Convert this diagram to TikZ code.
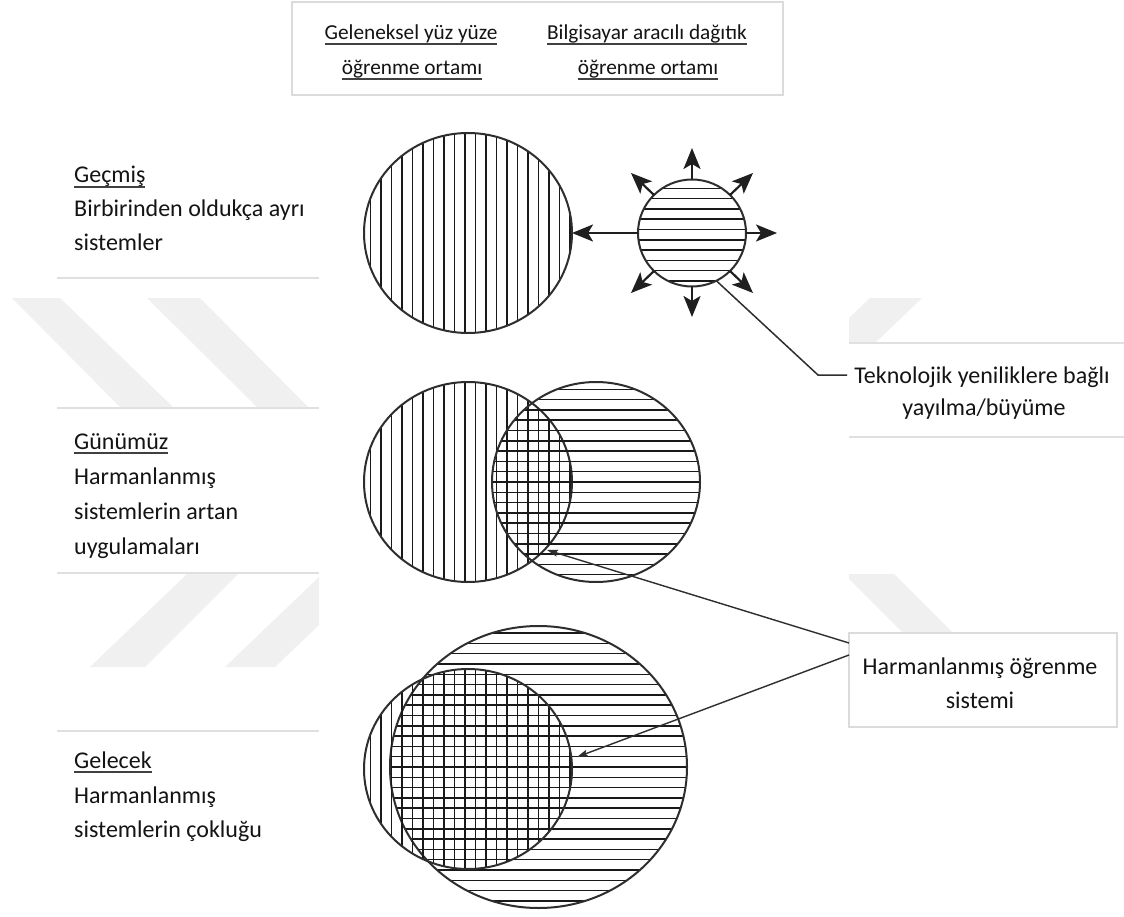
\documentclass[tikz,border=0pt]{standalone}
\usepackage{fontspec}
\setmainfont{Carlito}
\usetikzlibrary{arrows.meta,shapes.geometric,calc}

% underline set a little below the baseline, as a word processor does
\newcommand{\ulword}[1]{\setbox0=\hbox{#1}\rlap{\color{black!75}\rule[-5.2pt]{\wd0}{1.8pt}}\box0}

\begin{document}
\begin{tikzpicture}[x=1pt,y=-1pt,
  outline/.style={draw=black!82, line width=2pt},
  hatchline/.style={black!90, line width=1.5pt},
  disc/.style={ellipse, outline, inner sep=0pt, outer sep=0pt},
  vhatch/.style={path picture={
      \foreach \k in {-15,...,15}{
        \draw[hatchline] ($(path picture bounding box.center)+(\k*10.5-3,-170)$) -- ++(0,340);}}},
  hhatch/.style={path picture={
      \foreach \k in {-15,...,15}{
        \draw[hatchline] ($(path picture bounding box.center)+(-170,\k*10.3+#1)$) -- ++(340,0);}}},
  hhatch/.default=0,
  burst/.style={-{Stealth[length=21pt,width=17pt,inset=5pt]}, line width=2.2pt, black!88},
  pointer/.style={-{Stealth[length=11pt,width=7pt,inset=2pt]}, line width=1.4pt, black!82},
  leader/.style={line width=1.5pt, black!82},
  txt/.style={inner sep=0pt, text=black!92, font=\fontsize{24}{29}\selectfont},
  hdr/.style={inner sep=0pt, text=black!92, font=\fontsize{21.3}{26}\selectfont},
  sepline/.style={draw=black!12, line width=2pt},
  frame/.style={draw=black!14, line width=1.2pt, inner sep=0pt, outer sep=0pt},
  wm/.style={fill=black!6}
]
\useasboundingbox (0,0) rectangle (1124,917);
\fill[white] (0,0) rectangle (1124,917);

% faint background stripes
\fill[wm] (12,298) -- (60,298) -- (173,407) -- (120,407) -- cycle;
\fill[wm] (147,298) -- (200,298) -- (308,407) -- (257,407) -- cycle;
\fill[wm] (187,574) -- (238,574) -- (145,667) -- (90,667) -- cycle;
\fill[wm] (319,577) -- (319,625) -- (275,667) -- (225,667) -- cycle;
\fill[wm] (870,298) -- (922,298) -- (875,343) -- (849,343) -- (849,318) -- cycle;
\fill[wm] (849,574) -- (894,574) -- (953,633) -- (903,633) -- (849,579) -- cycle;

% column headings
\node[frame, minimum width=491pt, minimum height=93pt] (hdrbox) at (537.5,48.5) {};
\node[hdr, anchor=base] (h1a) at (411,40) {\ulword{Geleneksel yüz yüze}};
\node[hdr, anchor=base] (h1b) at (412,75) {\ulword{öğrenme ortamı}};
\node[hdr, anchor=base] (h2a) at (647,40) {\ulword{Bilgisayar aracılı dağıtık}};
\node[hdr, anchor=base] (h2b) at (648,75) {\ulword{öğrenme ortamı}};

% row labels
\draw[sepline] (57,278) -- (319,278);
\draw[sepline] (57,408) -- (319,408);
\draw[sepline] (57,573) -- (319,573);
\draw[sepline] (57,731) -- (319,731);
\node[txt, anchor=base west] (p1) at (74,183) {\ulword{Geçmiş}};
\node[txt, anchor=base west] (p2) at (74,217) {Birbirinden oldukça ayrı};
\node[txt, anchor=base west] (p3) at (74,251) {sistemler};
\node[txt, anchor=base west] (n1) at (74,449) {\ulword{Günümüz}};
\node[txt, anchor=base west] (n2) at (74,484) {Harmanlanmış};
\node[txt, anchor=base west] (n3) at (74,519) {sistemlerin artan};
\node[txt, anchor=base west] (n4) at (74,554) {uygulamaları};
\node[txt, anchor=base west] (f1) at (74,768) {\ulword{Gelecek}};
\node[txt, anchor=base west] (f2) at (74,803) {Harmanlanmış};
\node[txt, anchor=base west] (f3) at (74,837) {sistemlerin çokluğu};

% right-hand notes
\draw[sepline] (849,343) -- (1124,343);
\draw[sepline] (849,437) -- (1124,437);
\node[txt, anchor=base] (tech1) at (982,383) {Teknolojik yeniliklere bağlı};
\node[txt, anchor=base] (tech2) at (984,415) {yayılma/büyüme};
\node[frame, minimum width=268pt, minimum height=94pt] (harmbox) at (983,680) {};
\node[txt, anchor=base] (harm1) at (980,674) {Harmanlanmış öğrenme};
\node[txt, anchor=base] (harm2) at (980,708) {sistemi};

% past: two separate systems
\node[disc, vhatch, minimum width=208pt, minimum height=200pt] (pastL) at (468,233) {};
\node[disc, hhatch=-3.5, minimum width=108pt, minimum height=107pt] (pastR) at (692,233) {};
\coordinate (tN) at (692,148);
\coordinate (tS) at (692,317);
\coordinate (tE) at (777,233);
\coordinate (tNE) at (753,173);
\coordinate (tNW) at (631,173);
\coordinate (tSE) at (753,293);
\coordinate (tSW) at (631,293);
\draw[burst] (pastR.north) -- (tN);
\draw[burst] (pastR.south) -- (tS);
\draw[burst] (pastR.east) -- (tE);
\draw[burst] (pastR.45) -- (tNE);
\draw[burst] (pastR.135) -- (tNW);
\draw[burst] (pastR.-45) -- (tSE);
\draw[burst] (pastR.-135) -- (tSW);
\draw[burst] (pastR.west) -- (pastL.east);
\coordinate (techbend) at (818,375);
\coordinate (techend) at (847,375);
\draw[leader] (pastR.-63) -- (techbend) -- (techend);

% present: overlapping systems
\node[disc, vhatch, minimum width=208pt, minimum height=200pt] (nowL) at (468,482) {};
\node[disc, hhatch, minimum width=208pt, minimum height=200pt] (nowR) at (596,482) {};

% future: blended systems dominate
\node[disc, hhatch, minimum width=297pt, minimum height=282pt] (futR) at (538.5,767) {};
\node[disc, vhatch, minimum width=208pt, minimum height=200pt] (futL) at (468,769) {};

% pointers to the blended areas
\coordinate (hA) at (849,643);
\coordinate (hB) at (849,655);
\coordinate (tipA) at (547,550);
\coordinate (tipB) at (577,757);
\draw[pointer] (hA) -- (tipA);
\draw[pointer] (hB) -- (tipB);
\end{tikzpicture}
\end{document}
